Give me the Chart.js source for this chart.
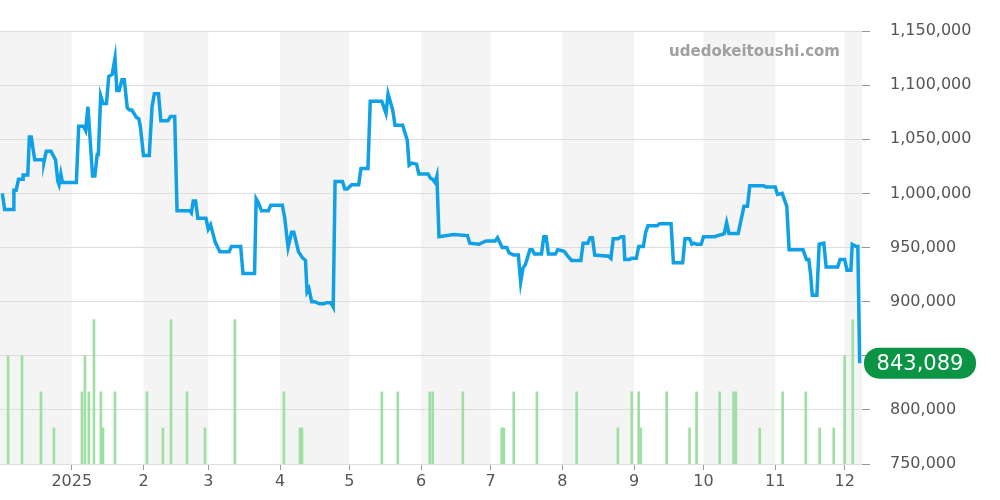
<!DOCTYPE html>
<html>
<head>
<meta charset="utf-8">
<script src="https://cdn.jsdelivr.net/npm/chart.js@4/dist/chart.umd.min.js"></script>
<style>
  html, body { margin: 0; padding: 0; background: #fff; }
  #wrap { width: 1000px; height: 500px; position: relative; }
</style>
</head>
<body>
<div id="wrap"><canvas id="priceChart" width="1000" height="500"></canvas></div>
<script>
// x values are days since 2024-12-01, ten points per line
const priceDays = [
  1, 2, 6, 6, 7, 8, 10, 10, 12, 12.7,
  13.5, 15, 19, 19, 20, 22, 24, 25, 25.5, 26.3,
  27, 33, 34, 36, 37, 38, 40, 41, 42, 42.5,
  43.5, 44.5, 46, 47, 48.5, 49.7, 50.5, 51.5, 52.7, 53.7,
  55, 56, 57, 59, 60, 60.7, 62, 64.5, 65.7, 66.7,
  68.5, 69.5, 72.5, 73.7, 75.5, 76.5, 82, 82.7, 83.5, 84.5,
  85.5, 89, 90, 91, 93, 95, 99, 100, 104, 105,
  110, 110.7, 111.5, 113, 116, 117, 122, 123, 124.5, 126,
  127, 129, 130.5, 132, 132.7, 133.5, 134.7, 136, 138, 140,
  141, 143, 144, 144.8, 148, 149, 150, 152, 155, 156,
  159, 160, 165, 166.8, 167.7, 169.7, 170.7, 174, 176, 176.8,
  178, 180, 181, 185, 186, 187, 188, 188.8, 189.7, 196,
  202, 203, 207, 210, 214, 215, 217, 219, 220, 222,
  224, 225, 226, 227, 229, 230, 231, 234, 235, 236,
  237, 240, 241, 243, 244, 245, 247, 251, 252, 254,
  255, 256, 257, 263, 264, 265, 267, 268.5, 269.5, 270,
  272, 273, 275, 276, 278, 279, 280, 284, 285, 290,
  291, 295, 296, 298, 299, 300, 301, 303, 304, 309,
  310, 312, 313, 314, 315, 319, 320.5, 321.5, 323, 324,
  330, 331, 335, 336, 338, 339, 340, 341, 347, 348.5,
  349.5, 350.3, 351, 353, 354, 356, 357, 362, 363, 365,
  366, 367.7, 368.3, 370, 370.7, 371.5,
];
const prices = [
  1000000, 985000, 985000, 1003000, 1003000, 1013000, 1013000, 1017000, 1017000, 1052000,
  1052000, 1031000, 1031000, 1029000, 1039000, 1039000, 1031000, 1011000, 1008000, 1018000,
  1010000, 1010000, 1062000, 1062000, 1058000, 1080000, 1016000, 1016000, 1036000, 1036000,
  1090000, 1083000, 1083000, 1108000, 1110000, 1125000, 1095000, 1095000, 1105000, 1105000,
  1079000, 1077000, 1077000, 1070000, 1069000, 1061000, 1035000, 1035000, 1080000, 1092000,
  1092000, 1067000, 1067000, 1071000, 1071000, 984000, 984000, 982000, 993000, 993000,
  977000, 977000, 967000, 971000, 955000, 946000, 946000, 951000, 951000, 926000,
  926000, 995000, 992000, 984000, 984000, 989000, 989000, 978000, 950000, 964000,
  964000, 946000, 941000, 938000, 909000, 912000, 900000, 900000, 898000, 898000,
  899000, 899000, 895000, 1011000, 1011000, 1004000, 1004000, 1008000, 1008000, 1023000,
  1023000, 1085000, 1085000, 1074000, 1092000, 1077000, 1063000, 1063000, 1049000, 1026000,
  1028000, 1027000, 1018000, 1018000, 1014000, 1013000, 1010000, 1016000, 960000, 962000,
  961000, 954000, 953000, 956000, 956000, 959000, 950000, 950000, 945000, 943000,
  943000, 918000, 931000, 934000, 948000, 948000, 944000, 944000, 960000, 960000,
  944000, 944000, 948000, 947000, 946000, 943000, 938000, 938000, 954000, 954000,
  959000, 959000, 943000, 942000, 940000, 958000, 958000, 960000, 960000, 939000,
  939000, 940000, 940000, 951000, 951000, 964000, 970000, 970000, 972000, 972000,
  936000, 936000, 958000, 958000, 953000, 954000, 953000, 953000, 960000, 960000,
  961000, 962000, 963000, 973000, 963000, 963000, 978000, 988000, 988000, 1007000,
  1007000, 1006000, 1006000, 999000, 1000000, 994000, 988000, 948000, 948000, 939000,
  939000, 925000, 906000, 906000, 953000, 954000, 932000, 932000, 939000, 939000,
  929000, 929000, 953000, 951000, 951000, 843089,
];

const volumeDays = [3.5,9.5,17.7,23.3,35.4,36.7,38.4,40.6,43.6,44.5,49.7,63.5,70.4,73.9,80.8,88.6,101.5,122.7,129.6,130.5,165,171.9,185.7,187,200,216.8,217.7,222,232,249.2,267,273,276,276.9,288.1,298,301,311,317,318,328.3,338.2,348.2,354.2,360.3,365,368.5];
const volumes = [3,3,2,1,2,3,2,4,2,1,2,2,1,4,2,1,4,2,1,1,2,2,2,2,2,1,1,2,2,2,1,2,2,1,2,1,2,2,2,2,1,2,2,1,1,3,4];

const monthDays = [31,62,90,121,151,182,212,243,274,304,335,365];
const monthLabels = ['2025','2','3','4','5','6','7','8','9','10','11','12'];
const shadedMonths = [[0,31],[62,90],[121,151],[182,212],[243,274],[304,335],[365,372.5]];
const yTicks = [750000,800000,850000,900000,950000,1000000,1050000,1100000,1150000];

const bandsPlugin = {
  id: 'bands',
  beforeDraw(chart) {
    const { ctx, chartArea, scales } = chart;
    ctx.save();
    ctx.fillStyle = '#f4f4f4';
    shadedMonths.forEach(([a, b]) => {
      const x1 = scales.x.getPixelForValue(a);
      const x2 = Math.min(scales.x.getPixelForValue(b), chartArea.right);
      ctx.fillRect(x1, chartArea.top, x2 - x1, chartArea.bottom - chartArea.top);
    });
    ctx.restore();
  },
  afterDraw(chart) {
    const { ctx, chartArea, scales } = chart;
    ctx.save();
    ctx.font = 'bold 15px "DejaVu Sans"';
    ctx.fillStyle = '#a0a0a0';
    ctx.textAlign = 'right';
    ctx.textBaseline = 'middle';
    ctx.fillText('udedokeitoushi.com', chartArea.right - 22, 52);
    // last value badge
    const last = prices[prices.length - 1];
    const y = scales.y.getPixelForValue(last);
    const x = chartArea.right + 2, w = 112, h = 31;
    ctx.fillStyle = '#0b9444';
    ctx.beginPath();
    ctx.roundRect(x, y - h / 2, w, h, 15);
    ctx.fill();
    ctx.fillStyle = '#fff';
    ctx.font = '21px "DejaVu Sans"';
    ctx.textAlign = 'center';
    ctx.fillText(last.toLocaleString('en-US'), x + w / 2, y + 1);
    ctx.restore();
  }
};

new Chart(document.getElementById('priceChart'), {
  data: {
    datasets: [
      {
        type: 'line',
        data: priceDays.map((d, i) => ({ x: d, y: prices[i] })),
        borderColor: '#0fa0e6',
        borderWidth: 3.5,
        pointRadius: 0,
        tension: 0,
        yAxisID: 'y',
        order: 1,
      },
      {
        type: 'bar',
        data: volumeDays.map((d, i) => ({ x: d, y: volumes[i] })),
        backgroundColor: '#9fdfa3',
        barThickness: 2,
        yAxisID: 'vol',
        order: 2,
      },
    ],
  },
  options: {
    responsive: false,
    animation: false,
    layout: { padding: { top: 31, left: 0, right: 0, bottom: 0 } },
    plugins: { legend: { display: false }, tooltip: { enabled: false } },
    scales: {
      x: {
        type: 'linear',
        min: 0,
        max: 372.5,
        offset: false,
        afterBuildTicks(axis) { axis.ticks = monthDays.map(v => ({ value: v })); },
        afterFit(axis) { axis.height = 36; },
        grid: { display: true, offset: false, drawOnChartArea: false, tickLength: 6, color: '#999' },
        border: { display: false },
        ticks: {
          autoSkip: false,
          maxRotation: 0,
          padding: 2,
          color: '#555',
          font: { size: 16, family: 'DejaVu Sans' },
          callback(v) { const i = monthDays.indexOf(v); return i >= 0 ? monthLabels[i] : ''; },
        },
      },
      y: {
        position: 'right',
        min: 750000,
        max: 1150000,
        afterBuildTicks(axis) { axis.ticks = yTicks.map(v => ({ value: v })); },
        afterFit(axis) { axis.width = 138; },
        grid: { color: '#dddddd', tickLength: 8, tickColor: '#999' },
        border: { display: false },
        ticks: {
          padding: 20,
          color: '#555',
          font: { size: 16, family: 'DejaVu Sans' },
          callback: v => v.toLocaleString('en-US'),
        },
      },
      vol: {
        display: false,
        min: 0,
        max: 12,
      },
    },
  },
  plugins: [bandsPlugin],
});
</script>
</body>
</html>
